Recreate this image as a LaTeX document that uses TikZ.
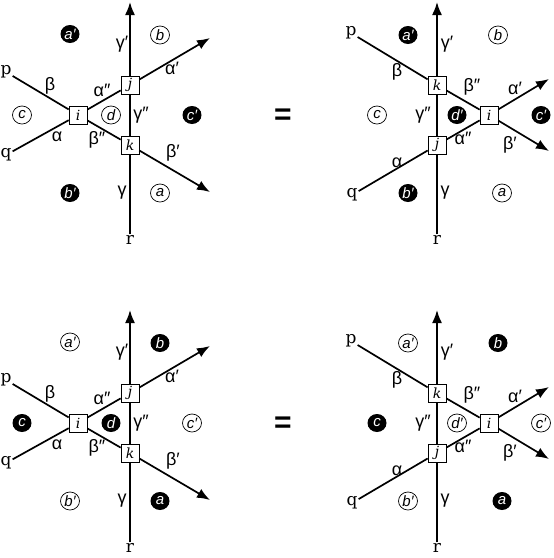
\documentclass[tikz,border=0pt]{standalone}
\usepackage{fontspec}
\setmainfont{Liberation Sans}
\newfontfamily\pqrfont{DejaVu Serif}
\usepackage{tikz}
\usetikzlibrary{arrows.meta, shapes.geometric}

\tikzset{
    strand/.style={line width=1.7pt},
    strandtip/.style={strand, -{Latex[length=13pt, width=10pt]}},
    vertex/.style={rectangle, draw, line width=0.7pt, fill=white, minimum size=18pt, inner sep=0pt, font=\pqrfont\itshape\fontsize{14}{14}\selectfont},
    face/.style={ellipse, inner xsep=0.5pt, inner ysep=0pt, minimum width=19pt, minimum height=18pt, font=\itshape\fontsize{15}{15}\selectfont},
    dark/.style={face, fill=black, text=white},
    light/.style={face, draw, line width=0.7pt, fill=white},
    greek/.style={inner sep=0pt, font=\fontsize{18}{18}\selectfont},
    endlabel/.style={inner sep=1pt, font=\pqrfont\fontsize{17}{17}\selectfont},
    equal/.style={inner sep=0pt, font=\bfseries\fontsize{30}{30}\selectfont}
}

\begin{document}
\begin{tikzpicture}[x=1pt, y=-1pt]
    \useasboundingbox (0,0) rectangle (554,558);

    % ---------- top left ----------
    \node[vertex] (I1) at (78,115) {i};
    \node[vertex] (J1) at (130,85) {j};
    \node[vertex] (K1) at (130,145) {k};
    \node[endlabel] (P1) at (6,72) {p};
    \node[endlabel] (Q1) at (6,155) {q};
    \node[endlabel] (R1) at (130,240) {r};
    \coordinate (topG1) at (130,2);
    \coordinate (tipA1) at (210,38);
    \coordinate (tipB1) at (210,192);

    \draw[strand] (P1) -- (I1);
    \draw[strand] (I1) -- (K1);
    \draw[strandtip] (K1) -- (tipB1);
    \draw[strand] (Q1) -- (I1);
    \draw[strand] (I1) -- (J1);
    \draw[strandtip] (J1) -- (tipA1);
    \draw[strand] (R1) -- (K1);
    \draw[strand] (K1) -- (J1);
    \draw[strandtip] (J1) -- (topG1);

    \node[dark] (ap1) at (70,34) {a′};
    \node[light] (b1) at (160,35) {b};
    \node[light] (c1) at (22,115) {c};
    \node[light] (d1) at (111,115) {d};
    \node[dark] (cp1) at (192,115) {c′};
    \node[dark] (bp1) at (70,193) {b′};
    \node[light] (a1) at (160,193) {a};

    \node[greek] (gp1) at (122,44) {γ′};
    \node[greek] (be1) at (50,86) {β};
    \node[greek] (alpp1) at (102,90) {α″};
    \node[greek] (alp1) at (172,68) {α′};
    \node[greek] (gpp1) at (141,115) {γ″};
    \node[greek] (al1) at (57,137) {α};
    \node[greek] (bepp1) at (97,140) {β″};
    \node[greek] (bep1) at (173,153) {β′};
    \node[greek] (ga1) at (122,193) {γ};

    \node[equal] (eq1) at (283,117) {=};

    % ---------- top right ----------
    \node[vertex] (I2) at (489,115) {i};
    \node[vertex] (J2) at (437,145) {j};
    \node[vertex] (K2) at (437,85) {k};
    \node[endlabel] (P2) at (351,33) {p};
    \node[endlabel] (Q2) at (352,195) {q};
    \node[endlabel] (R2) at (437,240) {r};
    \coordinate (topG2) at (437,2);
    \coordinate (tipA2) at (549,79);
    \coordinate (tipB2) at (549,151);

    \draw[strand] (P2) -- (K2);
    \draw[strand] (K2) -- (I2);
    \draw[strandtip] (I2) -- (tipB2);
    \draw[strand] (Q2) -- (J2);
    \draw[strand] (J2) -- (I2);
    \draw[strandtip] (I2) -- (tipA2);
    \draw[strand] (R2) -- (J2);
    \draw[strand] (J2) -- (K2);
    \draw[strandtip] (K2) -- (topG2);

    \node[dark] (ap2) at (408,35) {a′};
    \node[light] (b2) at (498,35) {b};
    \node[light] (c2) at (377,115) {c};
    \node[dark] (dp2) at (457,115) {d′};
    \node[dark] (cp2) at (541,115) {c′};
    \node[dark] (bp2) at (408,193) {b′};
    \node[light] (a2) at (502,193) {a};

    \node[greek] (gp2) at (447,44) {γ′};
    \node[greek] (be2) at (397,72) {β};
    \node[greek] (bepp2) at (472,87) {β″};
    \node[greek] (alp2) at (515,88) {α′};
    \node[greek] (gpp2) at (423,115) {γ″};
    \node[greek] (alpp2) at (463,138) {α″};
    \node[greek] (bep2) at (510,145) {β′};
    \node[greek] (al2) at (397,163) {α};
    \node[greek] (ga2) at (445,193) {γ};

    % ---------- bottom left ----------
    \node[vertex] (I3) at (78,423) {i};
    \node[vertex] (J3) at (130,393) {j};
    \node[vertex] (K3) at (130,453) {k};
    \node[endlabel] (P3) at (6,380) {p};
    \node[endlabel] (Q3) at (6,463) {q};
    \node[endlabel] (R3) at (130,548) {r};
    \coordinate (topG3) at (130,310);
    \coordinate (tipA3) at (210,346);
    \coordinate (tipB3) at (210,500);

    \draw[strand] (P3) -- (I3);
    \draw[strand] (I3) -- (K3);
    \draw[strandtip] (K3) -- (tipB3);
    \draw[strand] (Q3) -- (I3);
    \draw[strand] (I3) -- (J3);
    \draw[strandtip] (J3) -- (tipA3);
    \draw[strand] (R3) -- (K3);
    \draw[strand] (K3) -- (J3);
    \draw[strandtip] (J3) -- (topG3);

    \node[light] (ap3) at (70,342) {a′};
    \node[dark] (b3) at (160,343) {b};
    \node[dark] (c3) at (22,423) {c};
    \node[dark] (d3) at (111,423) {d};
    \node[light] (cp3) at (192,423) {c′};
    \node[light] (bp3) at (70,501) {b′};
    \node[dark] (a3) at (160,501) {a};

    \node[greek] (gp3) at (122,352) {γ′};
    \node[greek] (be3) at (50,394) {β};
    \node[greek] (alpp3) at (102,398) {α″};
    \node[greek] (alp3) at (172,376) {α′};
    \node[greek] (gpp3) at (141,423) {γ″};
    \node[greek] (al3) at (57,445) {α};
    \node[greek] (bepp3) at (97,448) {β″};
    \node[greek] (bep3) at (173,461) {β′};
    \node[greek] (ga3) at (122,501) {γ};

    \node[equal] (eq2) at (283,425) {=};

    % ---------- bottom right ----------
    \node[vertex] (I4) at (489,423) {i};
    \node[vertex] (J4) at (437,453) {j};
    \node[vertex] (K4) at (437,393) {k};
    \node[endlabel] (P4) at (351,341) {p};
    \node[endlabel] (Q4) at (352,503) {q};
    \node[endlabel] (R4) at (437,548) {r};
    \coordinate (topG4) at (437,310);
    \coordinate (tipA4) at (549,387);
    \coordinate (tipB4) at (549,459);

    \draw[strand] (P4) -- (K4);
    \draw[strand] (K4) -- (I4);
    \draw[strandtip] (I4) -- (tipB4);
    \draw[strand] (Q4) -- (J4);
    \draw[strand] (J4) -- (I4);
    \draw[strandtip] (I4) -- (tipA4);
    \draw[strand] (R4) -- (J4);
    \draw[strand] (J4) -- (K4);
    \draw[strandtip] (K4) -- (topG4);

    \node[light] (ap4) at (408,343) {a′};
    \node[dark] (b4) at (498,343) {b};
    \node[dark] (c4) at (377,423) {c};
    \node[light] (dp4) at (457,423) {d′};
    \node[light] (cp4) at (541,423) {c′};
    \node[light] (bp4) at (408,501) {b′};
    \node[dark] (a4) at (502,501) {a};

    \node[greek] (gp4) at (447,352) {γ′};
    \node[greek] (be4) at (397,380) {β};
    \node[greek] (bepp4) at (472,395) {β″};
    \node[greek] (alp4) at (515,396) {α′};
    \node[greek] (gpp4) at (423,423) {γ″};
    \node[greek] (alpp4) at (463,446) {α″};
    \node[greek] (bep4) at (510,453) {β′};
    \node[greek] (al4) at (397,471) {α};
    \node[greek] (ga4) at (445,501) {γ};
\end{tikzpicture}
\end{document}
